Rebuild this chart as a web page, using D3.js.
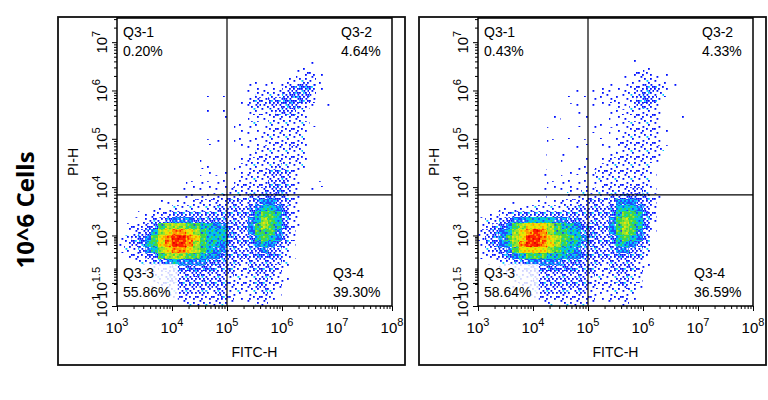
<!DOCTYPE html>
<html>
<head>
<meta charset="utf-8">
<script src="https://cdn.jsdelivr.net/npm/d3@7"></script>
<style>
    body { margin: 0; background: #fff; }
    text { font-family: "Liberation Sans", Arial, sans-serif; fill: #000; }
</style>
</head>
<body>
<div id="chart"></div>
<script>
/* * * * * * * * * * * * * *
*   Annexin V / PI dot plot *
* * * * * * * * * * * * * */

// quadrant gates and labels
const quadrantNames = ["Q3-1", "Q3-2", "Q3-3", "Q3-4"];
const percentA = ["0.20%", "4.64%", "55.86%", "39.30%"];
const percentB = ["0.43%", "4.33%", "58.64%", "36.59%"];
const gateFITC = 1e5;
const gatePI = 6900;

// axis ticks
const xMajor = [1e3, 1e4, 1e5, 1e6, 1e7, 1e8];
const xMajorExp = ["3", "4", "5", "6", "7", "8"];
const yMajorExp = [1, 1.5, 3, 4, 5, 6, 7];
const yMajorLabel = ["1", "1.5", "3", "4", "5", "6", "7"];
const sideLabel = "10^6 Cells";

// event density, one string per row (top row = 10^7.5),
// one char per 1/8 decade of FITC-H from 10^3; 0 = empty ... b = densest
const densityA = [
    "", "", "", "", "", "", "",
    "00000000 00000000 00000000 00001000",
    "00000000 00000000 00000000 00110000",
    "00000000 00000000 00000000 00122100",
    "00000000 00000000 00001111 12232100",
    "00000000 00000000 00011111 23443100",
    "00000000 00000101 00112222 34442000",
    "00000000 00000000 00123233 44432000",
    "00000000 00000000 00123233 44321010",
    "00000000 00000101 00122223 33210000",
    "00000000 00000001 00011122 22210000",
    "00000000 00000000 01122122 22221000",
    "00000000 00000000 01111122 22210000",
    "00000000 00000000 01111222 22210000",
    "00000000 00000110 01111122 22210000",
    "00000000 00000000 01112222 23210000",
    "00000000 00010000 00112222 22210000",
    "00000000 00001000 01122222 22210000",
    "00000000 00011100 01222223 22210000",
    "00000000 00000101 01122233 32100000",
    "00000000 00001011 01222233 32100000",
    "00000000 00111111 02222233 32100100",
    "00000000 01111111 22222334 32101000",
    "00000000 01111122 22233444 32100000",
    "00000011 11122222 33234554 32100000",
    "00001111 22222233 33345665 42100000",
    "00011222 33333333 33346776 42100000",
    "00112334 55544444 33356876 42100000",
    "01223478 88776655 43357876 42100000",
    "01234689 aa987666 43357775 32000000",
    "1234579a bba97666 43346765 32000000",
    "1234679a bba87665 43345654 31000000",
    "12235689 aa987655 33334543 21000000",
    "01223478 88776554 33334443 21000000",
    "00122345 65555444 33233333 20000000",
    "00001122 34444433 32233332 10000000",
    "00011223 33343333 32223332 10000000",
    "00001223 33333333 22223322 10000000",
    "00000122 23333333 22223322",
    "00000012 23333233 22222321",
    "00000001 22222223 21122221",
    "00000000 11222222 11112210"
];

const densityB = [
    "", "", "", "", "", "", "",
    "00000000 00000000 00000010",
    "00000000 00000000 00000000 10000000",
    "00000000 00000000 00000112 21110000",
    "00000000 00000000 00000112 22110000",
    "00000000 00000000 00111122 33211000",
    "00000000 00000111 11211223 43210000",
    "00000000 00000000 11121123 43100000",
    "00000000 00000110 11112123 32100000",
    "00000000 00000010 00111222 22100000",
    "00000000 00010001 00011112 22100100",
    "00000000 00000010 11101222 22100000",
    "00000000 00100000 11011122 22110000",
    "00000000 00000100 01011222 22100000",
    "00000000 00100001 00102222 22100000",
    "00000000 00000010 00111222 22210000",
    "00000000 01001000 00012222 22100000",
    "00000000 00001001 01122222 22100000",
    "00000000 00000011 01222222 21000000",
    "00000000 01000111 12222222 21000000",
    "00000000 01001101 12222222 21000000",
    "00000000 00111111 11222222 21000000",
    "00000000 01111212 12222233 21000000",
    "00000000 01010112 22233444 32100000",
    "00000100 11112222 33235554 32000000",
    "00011112 22222333 33346665 32000000",
    "01122333 33333333 33346776 42000000",
    "12234556 66655443 33357876 42000000",
    "12345789 99876654 43357876 41000000",
    "2345689a ba877664 43357875 31000000",
    "2345789b ba987765 43346765 31000000",
    "134568ab ba987664 43346654 30000000",
    "12345799 99876654 33335543 20000000",
    "12234567 77666554 33334433 20000000",
    "01123345 55554443 33233332 10000000",
    "00011223 34444433 32233332 10000000",
    "00012223 33333333 32223322 10000000",
    "00001222 33333333 22223322",
    "00000122 33333333 22222321",
    "00000012 23333233 21222221",
    "00000001 22222222 21122210",
    "00000000 11212222 11111210"
];

// look of each density level: background colour plus speckles [colour, count]
const levelStyle = {
    "1": {bg: null, dots: [["#0010ff", 4]]},
    "2": {bg: null, dots: [["#0010ff", 11], ["#00c8ff", 1]]},
    "3": {bg: null, dots: [["#0010ff", 22], ["#00c8ff", 3]]},
    "4": {bg: null, dots: [["#0010ff", 30], ["#00c8ff", 8]]},
    "5": {bg: "#1f4cff", dots: [["#00d4ff", 20], ["#20d890", 4], ["#ffffff", 4]]},
    "6": {bg: "#00c4e8", dots: [["#1f40ff", 10], ["#38d848", 14]]},
    "7": {bg: "#3ed848", dots: [["#00c8e8", 10], ["#b0e41c", 8], ["#1f40ff", 3]]},
    "8": {bg: "#9ee22a", dots: [["#3ed848", 12], ["#f4e600", 12]]},
    "9": {bg: "#f0e200", dots: [["#a6e41e", 10], ["#ff9a00", 12]]},
    "a": {bg: "#ff9400", dots: [["#f4e000", 10], ["#ff2200", 14]]},
    "b": {bg: "#ff2200", dots: [["#ff8c00", 12], ["#e00000", 8]]}
};

// speckle slots of the 16x14 texture tile (2 px slots), in fill order
const slotOrder = [
    [1, 1], [5, 4], [2, 5], [6, 0], [3, 2], [7, 6], [0, 3], [4, 6],
    [6, 2], [2, 0], [0, 6], [4, 3], [7, 4], [1, 4], [5, 1], [3, 5],
    [0, 0], [4, 0], [6, 5], [2, 2], [7, 1], [3, 4], [1, 6], [5, 6],
    [2, 3], [6, 3], [0, 2], [4, 5], [3, 0], [7, 3], [1, 2], [5, 2],
    [0, 4], [4, 1], [6, 6], [2, 4], [7, 0], [3, 6], [1, 5], [5, 5],
    [2, 1], [6, 4], [0, 1], [4, 4], [3, 3], [7, 5], [1, 0], [5, 3],
    [0, 5], [4, 2], [6, 1], [2, 6], [7, 2], [3, 1], [1, 3], [5, 0]
];

// layout
const plotW = 275, plotH = 288;
const panels = [
    {left: 117, top: 18, density: densityA, pct: percentA},
    {left: 478, top: 18, density: densityB, pct: percentB}
];

const svg = d3.select("#chart").append("svg")
    .attr("width", 768)
    .attr("height", 400);

// textures for every density level
const defs = svg.append("defs");
Object.keys(levelStyle).forEach(function(lv) {
    let st = levelStyle[lv];
    let pat = defs.append("pattern")
        .attr("id", "lv" + lv)
        .attr("patternUnits", "userSpaceOnUse")
        .attr("width", 16)
        .attr("height", 14);
    if (st.bg) pat.append("rect").attr("width", 16).attr("height", 14).attr("fill", st.bg);
    let k = 0;
    st.dots.forEach(function(d) {
        for (let n = 0; n < d[1]; n++, k++) {
            let s = slotOrder[k % slotOrder.length];
            pat.append("rect")
                .attr("x", s[0] * 2 + (s[1] % 2) * 0.5)
                .attr("y", s[1] * 2)
                .attr("width", 1.8).attr("height", 1.8)
                .attr("fill", d[0]);
        }
    });
});

// scales: FITC-H log, PI-H piecewise log (compressed below 10^3)
const x = d3.scaleLog().domain([1e3, 1e8]).range([0, plotW]);
const yExp = d3.scaleLinear()
    .domain([1, 1.5, 3, 7.5])
    .range([plotH, plotH * 0.92, plotH * 0.755, 0]);
const y = v => yExp(Math.log10(v));

// grid edges (in decades) for the density rows / columns
const colEdges = d3.range(41).map(i => 3 + i / 8);
const rowEdges = d3.range(37).map(i => 7.5 - i / 8)
    .concat(d3.range(1, 9).map(i => 3 - i * 0.1875))
    .concat(d3.range(1, 5).map(i => 1.5 - i * 0.125));

// minor ticks
const xMinor = [];
d3.range(3, 8).forEach(function(d) {
    d3.range(2, 10).forEach(k => xMinor.push(k * Math.pow(10, d)));
});
const yMinorExp = [20, 30, 40, 50, 60, 70, 80, 90, 200, 300, 400, 500, 600, 700, 800, 900].map(Math.log10);
d3.range(3, 7).forEach(function(d) {
    d3.range(2, 10).forEach(k => yMinorExp.push(d + Math.log10(k)));
});
yMinorExp.push(7 + Math.log10(2), 7 + Math.log10(3));

panels.forEach(function(p, pi) {
    let g = svg.append("g").attr("transform", "translate(" + p.left + "," + p.top + ")");

    // outer frame
    g.append("rect")
        .attr("x", -59).attr("y", -1)
        .attr("width", 347).attr("height", 348)
        .attr("fill", "none")
        .attr("stroke", "#111")
        .attr("stroke-width", 1.8);

    g.append("clipPath").attr("id", "clip" + pi)
        .append("rect").attr("width", plotW).attr("height", plotH);

    // density cells
    let cells = [];
    p.density.forEach(function(row, r) {
        row.replace(/ /g, "").padEnd(40, "0").split("").forEach(function(ch, c) {
            if (ch !== "0") cells.push({r: r, c: c, level: ch});
        });
    });

    g.append("g")
        .attr("clip-path", "url(#clip" + pi + ")")
        .attr("shape-rendering", "crispEdges")
        .selectAll("rect")
        .data(cells)
        .enter()
        .append("rect")
        .attr("x", d => x(Math.pow(10, colEdges[d.c])))
        .attr("y", d => yExp(rowEdges[d.r]))
        .attr("width", d => x(Math.pow(10, colEdges[d.c + 1])) - x(Math.pow(10, colEdges[d.c])))
        .attr("height", d => yExp(rowEdges[d.r + 1]) - yExp(rowEdges[d.r]))
        .attr("fill", d => "url(#lv" + d.level + ")");

    // faded box behind the Q3-3 label
    g.append("rect")
        .attr("x", 0).attr("y", 246)
        .attr("width", 61).attr("height", plotH - 246)
        .attr("fill", "#fff")
        .attr("fill-opacity", 0.82);

    // quadrant gates
    g.append("line")
        .attr("x1", x(gateFITC)).attr("x2", x(gateFITC))
        .attr("y1", 0).attr("y2", plotH)
        .attr("stroke", "#000").attr("stroke-width", 1.2);
    g.append("line")
        .attr("x1", 0).attr("x2", plotW)
        .attr("y1", y(gatePI)).attr("y2", y(gatePI))
        .attr("stroke", "#000").attr("stroke-width", 1.2);

    // plot frame
    g.append("rect")
        .attr("width", plotW).attr("height", plotH)
        .attr("fill", "none")
        .attr("stroke", "#000")
        .attr("stroke-width", 1.5);

    // x axis ticks
    let xAxis = g.append("g").attr("transform", "translate(0," + plotH + ")");
    xAxis.append("g").call(d3.axisBottom(x).tickValues(xMinor).tickSize(3).tickFormat(""));
    xAxis.append("g").call(d3.axisBottom(x).tickValues(xMajor).tickSize(5).tickFormat(""));
    xAxis.selectAll(".domain").remove();
    xAxis.selectAll("line").attr("stroke", "#000");

    xMajor.forEach(function(v, i) {
        let t = g.append("text")
            .attr("x", x(v))
            .attr("y", plotH + 27)
            .attr("text-anchor", "middle")
            .style("font-size", "15px");
        t.append("tspan").text("10");
        t.append("tspan").attr("dy", -7).style("font-size", "11px").text(xMajorExp[i]);
    });

    // y axis ticks
    let yAxis = g.append("g");
    yAxis.append("g").call(d3.axisLeft(yExp).tickValues(yMinorExp).tickSize(3).tickFormat(""));
    yAxis.append("g").call(d3.axisLeft(yExp).tickValues(yMajorExp).tickSize(5).tickFormat(""));
    yAxis.selectAll(".domain").remove();
    yAxis.selectAll("line").attr("stroke", "#000");

    yMajorExp.forEach(function(e, i) {
        let t = g.append("text")
            .attr("transform", "translate(-10," + yExp(e) + ") rotate(-90)")
            .attr("text-anchor", "middle")
            .style("font-size", "15px");
        t.append("tspan").text("10");
        t.append("tspan").attr("dy", -7).style("font-size", "11px").text(yMajorLabel[i]);
    });

    // axis titles
    g.append("text")
        .attr("x", plotW / 2).attr("y", plotH + 51)
        .attr("text-anchor", "middle")
        .style("font-size", "14px")
        .text("FITC-H");
    g.append("text")
        .attr("transform", "translate(-39," + plotH / 2 + ") rotate(-90)")
        .attr("text-anchor", "middle")
        .style("font-size", "14px")
        .text("PI-H");

    // quadrant labels
    let qPos = [[6, 19], [224, 19], [6, 260], [216, 260]];
    quadrantNames.forEach(function(name, i) {
        let t = g.append("text")
            .attr("x", qPos[i][0]).attr("y", qPos[i][1])
            .style("font-size", "14px");
        t.append("tspan").text(name);
        t.append("tspan").attr("x", qPos[i][0]).attr("dy", 19).text(p.pct[i]);
    });
});

// sample label on the left
svg.append("text")
    .attr("transform", "translate(34,210) rotate(-90)")
    .attr("text-anchor", "middle")
    .style("font-family", "'Open Sans', 'DejaVu Sans', sans-serif")
    .style("font-weight", "bold")
    .style("font-size", "24px")
    .text(sideLabel);
</script>
</body>
</html>
